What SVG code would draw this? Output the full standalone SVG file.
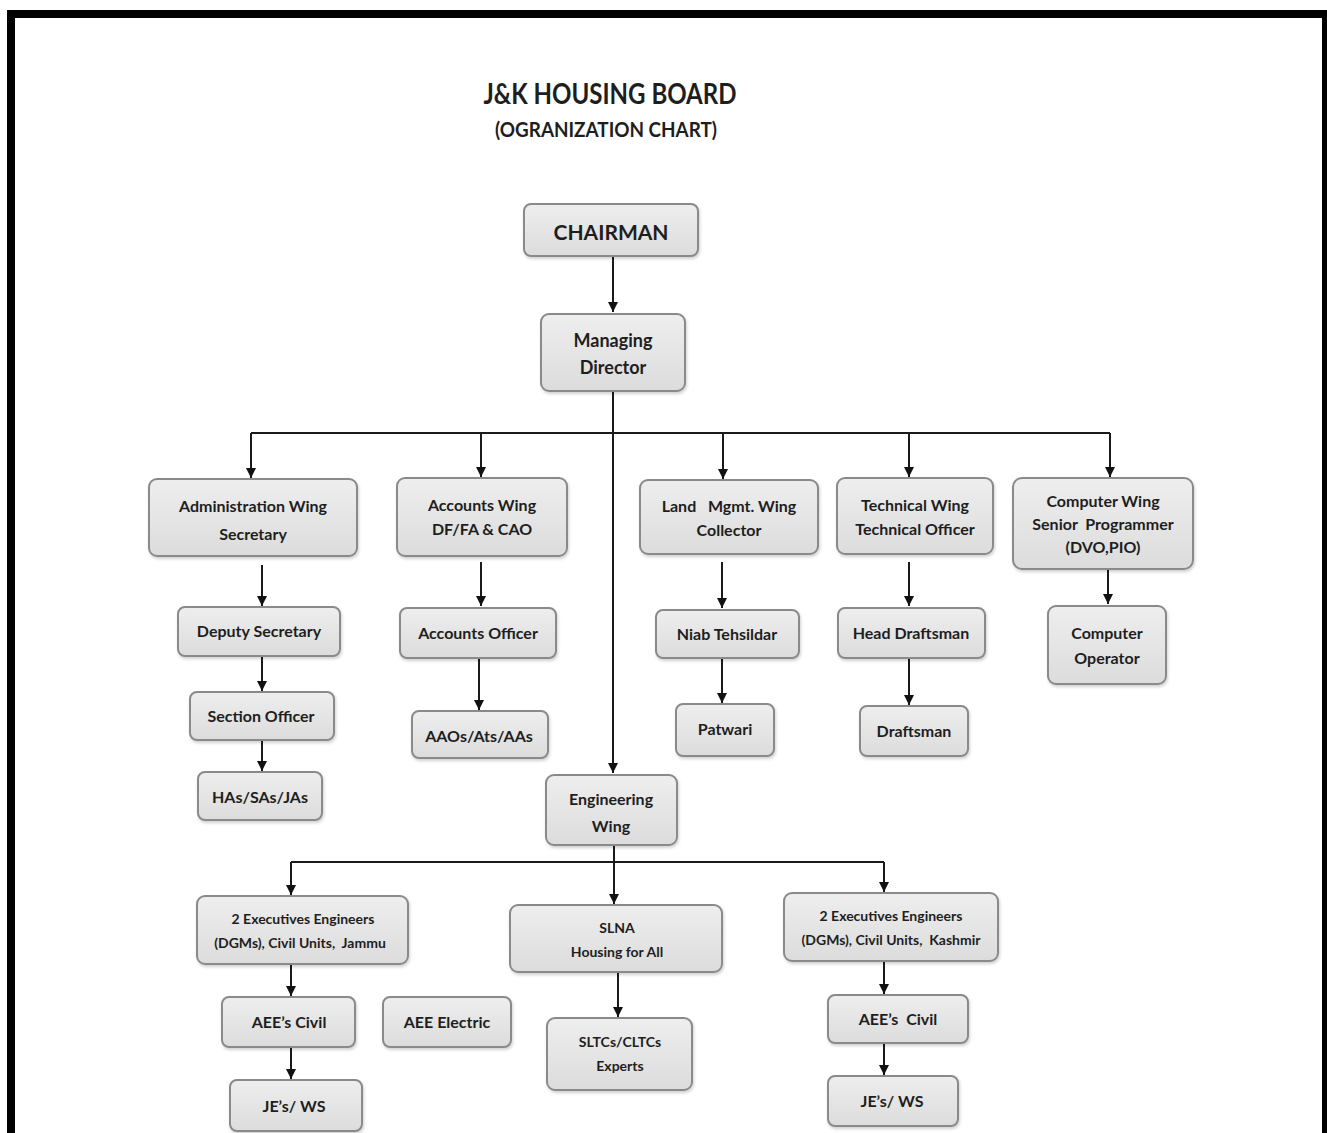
<svg xmlns="http://www.w3.org/2000/svg" width="1327" height="1133" viewBox="0 0 1327 1133">
<style>
.box{fill:url(#g);stroke:#8a8a8a;stroke-width:2;filter:url(#sh)}
.t{font-family:Lato,"Open Sans","Liberation Sans",sans-serif;font-weight:bold;fill:#1e1e1e;text-anchor:middle}
.s16{font-size:16px}.s15{font-size:15px}.s14{font-size:14px}.s18{font-size:18px}
.c{fill:none;stroke:#1a1a1a;stroke-width:2}
.a{marker-end:url(#ah)}
</style>
<defs>
<linearGradient id="g" x1="0" y1="0" x2="0" y2="1"><stop offset="0" stop-color="#eeeeee"/><stop offset="1" stop-color="#dcdcdc"/></linearGradient>
<filter id="sh" x="-10%" y="-10%" width="125%" height="130%"><feDropShadow dx="1" dy="2" stdDeviation="1.5" flood-color="#000" flood-opacity="0.18"/></filter>
<marker id="ah" viewBox="0 0 10 10" refX="10" refY="5" markerWidth="5" markerHeight="5" orient="auto" markerUnits="strokeWidth"><path d="M0,0 L10,5 L0,10 z" fill="#111"/></marker>
</defs>
<rect width="1327" height="1133" fill="#fff"/>
<path d="M11,1140 V14 H1326 V1140" fill="none" stroke="#000" stroke-width="8"/>
<text class="t" x="610" y="104" font-size="28" textLength="253" lengthAdjust="spacingAndGlyphs">J&amp;K HOUSING BOARD</text>
<text class="t" x="606" y="137" font-size="20" textLength="222" lengthAdjust="spacingAndGlyphs">(OGRANIZATION CHART)</text>
<g id="connectors">
<path class="c a" d="M613,256 V312"/>
<path class="c a" d="M613,391 V773"/>
<path class="c" d="M251,433 H1110"/>
<path class="c a" d="M251,433 V478"/>
<path class="c a" d="M481,433 V477"/>
<path class="c a" d="M723,433 V479"/>
<path class="c a" d="M909,433 V477"/>
<path class="c a" d="M1110,433 V477"/>
<path class="c a" d="M262,565 V606"/>
<path class="c a" d="M262,656 V691"/>
<path class="c a" d="M262,740 V771"/>
<path class="c a" d="M481,562 V606"/>
<path class="c a" d="M479,658 V710"/>
<path class="c a" d="M722,562 V608"/>
<path class="c a" d="M722,658 V703"/>
<path class="c a" d="M909,562 V606"/>
<path class="c a" d="M909,658 V705"/>
<path class="c a" d="M1108,569 V604"/>
<path class="c" d="M291,862 H884"/>
<path class="c a" d="M291,862 V895"/>
<path class="c a" d="M614,845 V904"/>
<path class="c a" d="M884,862 V892"/>
<path class="c a" d="M291,964 V996"/>
<path class="c a" d="M291,1047 V1079"/>
<path class="c a" d="M618,972 V1017"/>
<path class="c a" d="M884,961 V994"/>
<path class="c a" d="M884,1043 V1075"/>
</g>
<g id="chairman"><rect class="box" x="524" y="204" width="174" height="52" rx="7"/><text class="t" x="611" y="240" font-size="21">CHAIRMAN</text></g>
<g id="md"><rect class="box" x="541" y="314" width="144" height="77" rx="8"/><text class="t s18" x="613" y="347">Managing</text><text class="t s18" x="613" y="374">Director</text></g>
<g id="admin"><rect class="box" x="149" y="479" width="208" height="77" rx="8"/><text class="t s16" x="253" y="512">Administration Wing</text><text class="t s16" x="253" y="540">Secretary</text></g>
<g id="accounts"><rect class="box" x="397" y="478" width="170" height="78" rx="8"/><text class="t s16" x="482" y="511">Accounts Wing</text><text class="t s16" x="482" y="535">DF/FA &amp; CAO</text></g>
<g id="land"><rect class="box" x="640" y="480" width="178" height="74" rx="8"/><text class="t s16" x="729" y="512" xml:space="preserve">Land   Mgmt. Wing</text><text class="t s16" x="729" y="536">Collector</text></g>
<g id="technical"><rect class="box" x="837" y="478" width="156" height="76" rx="8"/><text class="t s16" x="915" y="511">Technical Wing</text><text class="t s16" x="915" y="535">Technical Officer</text></g>
<g id="computer"><rect class="box" x="1013" y="478" width="180" height="91" rx="9"/><text class="t s16" x="1103" y="507">Computer Wing</text><text class="t s16" x="1103" y="530" xml:space="preserve">Senior  Programmer</text><text class="t s16" x="1103" y="553">(DVO,PIO)</text></g>
<g id="deputy"><rect class="box" x="178" y="607" width="162" height="49" rx="7"/><text class="t s16" x="259" y="637">Deputy Secretary</text></g>
<g id="acco"><rect class="box" x="400" y="608" width="156" height="50" rx="7"/><text class="t s16" x="478" y="639">Accounts Officer</text></g>
<g id="niab"><rect class="box" x="656" y="610" width="143" height="48" rx="7"/><text class="t s16" x="727" y="640">Niab Tehsildar</text></g>
<g id="headdraft"><rect class="box" x="838" y="608" width="147" height="50" rx="7"/><text class="t s16" x="911" y="639">Head Draftsman</text></g>
<g id="compop"><rect class="box" x="1048" y="606" width="118" height="78" rx="8"/><text class="t s16" x="1107" y="639">Computer</text><text class="t s16" x="1107" y="664">Operator</text></g>
<g id="section"><rect class="box" x="190" y="692" width="144" height="48" rx="7"/><text class="t s16" x="261" y="722">Section Officer</text></g>
<g id="aaos"><rect class="box" x="412" y="711" width="136" height="47" rx="7"/><text class="t s16" x="479" y="742">AAOs/Ats/AAs</text></g>
<g id="patwari"><rect class="box" x="676" y="704" width="98" height="52" rx="7"/><text class="t s16" x="725" y="735">Patwari</text></g>
<g id="draftsman"><rect class="box" x="860" y="706" width="108" height="50" rx="7"/><text class="t s16" x="914" y="737">Draftsman</text></g>
<g id="has"><rect class="box" x="198" y="772" width="124" height="48" rx="7"/><text class="t s16" x="260" y="803">HAs/SAs/JAs</text></g>
<g id="eng"><rect class="box" x="546" y="775" width="131" height="70" rx="8"/><text class="t s16" x="611" y="805">Engineering</text><text class="t s16" x="611" y="832">Wing</text></g>
<g id="jammu"><rect class="box" x="197" y="896" width="211" height="68" rx="8"/><text class="t s14" x="303" y="924">2 Executives Engineers</text><text class="t s14" x="300" y="948" xml:space="preserve">(DGMs), Civil Units,  Jammu</text></g>
<g id="slna"><rect class="box" x="510" y="905" width="212" height="67" rx="8"/><text class="t s14" x="617" y="933">SLNA</text><text class="t s14" x="617" y="957">Housing for All</text></g>
<g id="kashmir"><rect class="box" x="784" y="893" width="214" height="68" rx="8"/><text class="t s14" x="891" y="921">2 Executives Engineers</text><text class="t s14" x="891" y="945" xml:space="preserve">(DGMs), Civil Units,  Kashmir</text></g>
<g id="aeecivil1"><rect class="box" x="222" y="997" width="133" height="50" rx="7"/><text class="t s16" x="289" y="1028">AEE’s Civil</text></g>
<g id="aeeelec"><rect class="box" x="383" y="997" width="128" height="50" rx="7"/><text class="t s16" x="447" y="1028">AEE Electric</text></g>
<g id="sltcs"><rect class="box" x="547" y="1018" width="145" height="72" rx="8"/><text class="t s14" x="620" y="1047">SLTCs/CLTCs</text><text class="t s14" x="620" y="1071">Experts</text></g>
<g id="aeecivil2"><rect class="box" x="828" y="995" width="140" height="48" rx="7"/><text class="t s16" x="898" y="1025" xml:space="preserve">AEE’s  Civil</text></g>
<g id="je1"><rect class="box" x="230" y="1080" width="132" height="51" rx="7"/><text class="t s16" x="294" y="1112">JE’s/ WS</text></g>
<g id="je2"><rect class="box" x="828" y="1076" width="130" height="50" rx="7"/><text class="t s16" x="892" y="1107">JE’s/ WS</text></g>
</svg>
